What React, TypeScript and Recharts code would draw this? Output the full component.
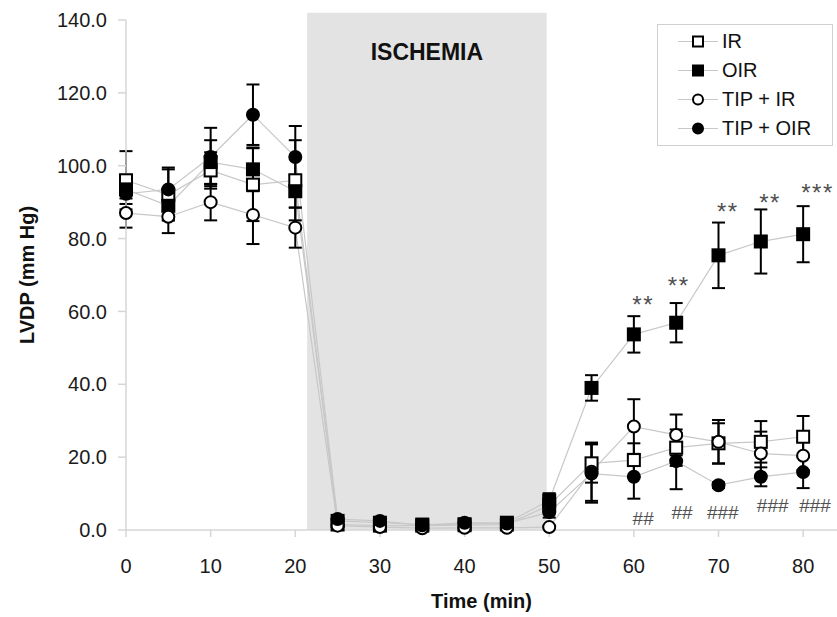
import React from "react";
import {
  ComposedChart,
  Line,
  Scatter,
  ErrorBar,
  XAxis,
  YAxis,
  ReferenceArea,
  Label,
} from "recharts";

// time points (min)
const times = [0, 5, 10, 15, 20, 25, 30, 35, 40, 45, 50, 55, 60, 65, 70, 75, 80];

// LVDP means and error (mm Hg)
const irMean = [96, 92, 98.7, 94.8, 96, 1.5, 1.2, 1.2, 1.3, 1.5, 6.8, 18.3, 19.2, 22.6, 23.8, 24.2, 25.6];
const irErr = [8, 7, 5, 10, 11, 0.5, 0.5, 0.5, 0.5, 0.5, 2, 5.3, 4.6, 5, 5.5, 5.7, 5.7];

const oirMean = [93.5, 89, 101, 99, 93, 2.5, 2.0, 1.5, 1.6, 2.0, 8.1, 39, 53.7, 56.9, 75.4, 79.2, 81.2];
const oirErr = [4, 4, 6, 6, 4.5, 1, 0.8, 0.8, 0.8, 0.8, 2, 3.5, 5, 5.4, 9, 8.8, 7.7];

const tipIrMean = [87, 86, 90, 86.5, 83, 1.2, 0.8, 0.5, 0.6, 0.6, 0.8, 16, 28.4, 26.1, 24.2, 21, 20.4];
const tipIrErr = [4, 4.5, 5, 8, 5.5, 0.3, 0.3, 0.3, 0.3, 0.3, 0.3, 8, 7.5, 5.6, 6, 6, 4];

const tipOirMean = [92.3, 93.5, 102.4, 114, 102.4, 3.0, 2.5, 1.3, 2.0, 1.8, 4.9, 15.5, 14.6, 18.9, 12.3, 14.6, 15.9];
const tipOirErr = [5, 6, 8, 8.3, 8.5, 0.5, 0.5, 0.5, 0.5, 0.5, 1.5, 8, 6, 7.7, 0.8, 2.6, 4.4];

// significance marks (placed in data units)
const starTimes = [61.1, 65.3, 71.1, 76.1, 81.7];
const starY = [61.9, 67.0, 87.4, 89.8, 92.6];
const starText = ["**", "**", "**", "**", "***"];

const hashTimes = [61.1, 65.7, 70.5, 76.4, 81.4];
const hashY = [3.2, 4.9, 4.9, 6.6, 6.6];
const hashText = ["##", "##", "###", "###", "###"];

const xTicks = [0, 10, 20, 30, 40, 50, 60, 70, 80];
const yTicks = [0, 20, 40, 60, 80, 100, 120, 140];

const ischemiaStart = 21.4;
const ischemiaEnd = 49.7;

const series = [
  { key: "ir", name: "IR", mean: irMean, err: irErr, shape: "square", filled: false },
  { key: "oir", name: "OIR", mean: oirMean, err: oirErr, shape: "square", filled: true },
  { key: "tipIr", name: "TIP + IR", mean: tipIrMean, err: tipIrErr, shape: "circle", filled: false },
  { key: "tipOir", name: "TIP + OIR", mean: tipOirMean, err: tipOirErr, shape: "circle", filled: true },
];

const rows = times.map((t, i) => {
  const row: any = { time: t };
  series.forEach((s) => {
    row[s.key] = s.mean[i];
    row[s.key + "Err"] = s.err[i];
  });
  return row;
});

const stars = starTimes.map((t, i) => ({ time: t, y: starY[i], text: starText[i] }));
const hashes = hashTimes.map((t, i) => ({ time: t, y: hashY[i], text: hashText[i] }));

const FONT = "'Liberation Sans', Arial, sans-serif";
const AXIS_GRAY = "#d6d6d6";
const LINE_GRAY = "#c8c8c8";

function Marker({ cx, cy, shape, filled, size }: any) {
  if (cx == null || cy == null) return null;
  const fill = filled ? "#000" : "#fff";
  if (shape === "square") {
    return (
      <rect
        x={cx - size / 2}
        y={cy - size / 2}
        width={size}
        height={size}
        fill={fill}
        stroke="#000"
        strokeWidth={2}
      />
    );
  }
  return <circle cx={cx} cy={cy} r={size / 2} fill={fill} stroke="#000" strokeWidth={2} />;
}

function TextMark(props: any) {
  const { cx, cy, payload, fontSize, spacing } = props;
  if (cx == null || cy == null) return null;
  return (
    <text
      x={cx}
      y={cy}
      textAnchor="middle"
      dominantBaseline="central"
      fontSize={fontSize}
      fontFamily={FONT}
      fill="#505050"
      letterSpacing={spacing}
    >
      {payload.text}
    </text>
  );
}

function LegendBox() {
  return (
    <div
      style={{
        position: "absolute",
        left: 657,
        top: 24,
        width: 176,
        height: 122,
        boxSizing: "border-box",
        border: "1px solid #d0d0d0",
        background: "#fff",
        paddingTop: 2,
        fontFamily: FONT,
        fontSize: 20,
        color: "#111",
      }}
    >
      {series.map((s) => (
        <div key={s.key} style={{ display: "flex", alignItems: "center", height: 29 }}>
          <svg width={64} height={29} style={{ display: "block" }}>
            <line x1={20} y1={14.5} x2={60} y2={14.5} stroke={LINE_GRAY} strokeWidth={1.2} />
            <Marker cx={40} cy={14.5} shape={s.shape} filled={s.filled} size={10} />
          </svg>
          <span style={{ lineHeight: "29px" }}>{s.name}</span>
        </div>
      ))}
    </div>
  );
}

export default function App() {
  return (
    <div
      style={{
        position: "absolute",
        left: 0,
        top: 0,
        width: 837,
        height: 617,
        background: "#fff",
        fontFamily: FONT,
      }}
    >
      <ComposedChart
        width={837}
        height={617}
        data={rows}
        margin={{ top: 20, right: 0, bottom: 0, left: 0 }}
      >
        <ReferenceArea
          x1={ischemiaStart}
          x2={ischemiaEnd}
          y1={0}
          y2={142}
          fill="#e3e3e3"
          fillOpacity={1}
          stroke="none"
          ifOverflow="visible"
        >
          <Label
            value="ISCHEMIA"
            position="insideTop"
            offset={31}
            style={{ fontSize: 23, fontWeight: "bold", fill: "#111", fontFamily: FONT }}
          />
        </ReferenceArea>
        <XAxis
          type="number"
          dataKey="time"
          domain={[0, 84]}
          ticks={xTicks}
          height={87}
          axisLine={{ stroke: AXIS_GRAY, strokeWidth: 1.5 }}
          tickLine={{ stroke: AXIS_GRAY, strokeWidth: 1.5 }}
          tickSize={7}
          tickMargin={22}
          tick={{ fontSize: 20, fill: "#1a1a1a", fontFamily: FONT }}
        >
          <Label
            value="Time (min)"
            position="insideBottom"
            offset={9}
            style={{ fontSize: 20, fontWeight: "bold", fill: "#111", fontFamily: FONT }}
          />
        </XAxis>
        <YAxis
          type="number"
          domain={[0, 140]}
          ticks={yTicks}
          width={126}
          axisLine={{ stroke: AXIS_GRAY, strokeWidth: 1.5 }}
          tickLine={{ stroke: AXIS_GRAY, strokeWidth: 1.5 }}
          tickSize={8}
          tickMargin={11}
          tickFormatter={(v: number) => v.toFixed(1)}
          tick={{ fontSize: 20, fill: "#1a1a1a", fontFamily: FONT }}
        >
          <Label
            value="LVDP (mm Hg)"
            angle={-90}
            position="insideLeft"
            offset={27}
            style={{
              textAnchor: "middle",
              fontSize: 20,
              fontWeight: "bold",
              fill: "#111",
              fontFamily: FONT,
            }}
          />
        </YAxis>

        {series.map((s) => (
          <Line
            key={"line-" + s.key}
            type="linear"
            dataKey={s.key}
            stroke={LINE_GRAY}
            strokeWidth={1.2}
            dot={false}
            activeDot={false}
            isAnimationActive={false}
            legendType="none"
          />
        ))}

        {series.map((s) => (
          <Scatter
            key={"pts-" + s.key}
            name={s.name}
            data={rows}
            dataKey={s.key}
            isAnimationActive={false}
            shape={(p: any) => <Marker cx={p.cx} cy={p.cy} shape={s.shape} filled={s.filled} size={12} />}
          >
            <ErrorBar
              dataKey={s.key + "Err"}
              direction="y"
              width={6.5}
              stroke="#000"
              strokeWidth={2}
              isAnimationActive={false}
            />
          </Scatter>
        ))}

        <Scatter
          data={stars}
          dataKey="y"
          isAnimationActive={false}
          shape={(p: any) => <TextMark {...p} fontSize={24} spacing={1.5} />}
        />
        <Scatter
          data={hashes}
          dataKey="y"
          isAnimationActive={false}
          shape={(p: any) => <TextMark {...p} fontSize={19} spacing={0} />}
        />
      </ComposedChart>
      <LegendBox />
    </div>
  );
}
